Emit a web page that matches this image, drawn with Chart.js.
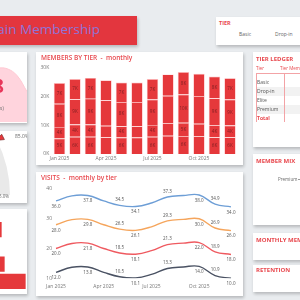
<!DOCTYPE html>
<html><head><meta charset="utf-8">
<script src="https://cdn.jsdelivr.net/npm/chart.js@4.4.0/dist/chart.umd.min.js"></script>
<style>
html,body{margin:0;padding:0;width:300px;height:300px;overflow:hidden;background:#e9ecef;font-family:"Open Sans",sans-serif;}
.panel{position:absolute;background:#fff;box-shadow:1px 2px 3px rgba(0,0,0,0.22);overflow:hidden;}
.ttl{position:absolute;left:3px;top:2px;font-size:6px;font-weight:700;color:#e8474d;white-space:nowrap;line-height:8px;}
.t{position:absolute;white-space:nowrap;}
canvas{position:absolute;}
</style></head>
<body>
<!-- banner -->
<div class="panel" style="left:-60px;top:16px;width:197px;height:29px;background:#e3363e;">
  <div class="t" style="right:37px;top:5px;font-size:13.5px;line-height:16px;color:#8f74d6;">Gym Chain Membership</div>
</div>
<!-- tier slicer -->
<div class="panel" style="left:216px;top:17px;width:90px;height:28px;">
  <div class="ttl" style="font-size:5.5px;">TIER</div>
  <div class="t" style="left:23px;top:14px;font-size:5px;color:#666;">Basic</div>
  <div class="t" style="left:59px;top:14px;font-size:5px;color:#666;">Drop-in</div>
</div>
<!-- left KPI 1 -->
<div class="panel" id="p1" style="left:-20px;top:52px;width:47px;height:71px;">
  <canvas id="area" width="60" height="62" style="left:-13px;top:8px;"></canvas>
  <div class="t" style="right:23px;top:24px;font-size:20px;line-height:20px;font-weight:700;color:#e8365a;">28</div>
  <div class="t" style="right:23px;top:52px;font-size:5.5px;color:#777;">(members)</div>
</div>
<!-- left gauge -->
<div class="panel" style="left:-20px;top:131px;width:47px;height:72px;">
  <canvas id="gauge" width="242" height="121" style="left:-212px;top:-57px;"></canvas>
  <div class="t" style="left:35px;top:2px;font-size:5px;color:#666;">85.0%</div>
  <div class="t" style="right:18px;top:62px;font-size:4.5px;color:#666;">95.0%</div>
</div>
<!-- left bars -->
<div class="panel" style="left:-20px;top:209px;width:47px;height:85px;">
  <canvas id="side" width="150" height="69" style="left:-100px;top:12px;"></canvas>
</div>
<!-- members by tier -->
<div class="panel" style="left:36px;top:52px;width:207px;height:113px;">
  <div class="ttl" style="left:5px;top:2px;font-size:6.5px;font-weight:600;">MEMBERS BY TIER&nbsp; - &nbsp;monthly</div>
  <canvas id="bars" width="207" height="103" style="left:0;top:10px;"></canvas>
</div>
<!-- visits -->
<div class="panel" style="left:36px;top:172px;width:207px;height:124px;">
  <div class="ttl" style="left:5px;top:2px;font-size:6.5px;font-weight:600;">VISITS&nbsp; - &nbsp;monthly by tier</div>
  <canvas id="visits" width="207" height="114" style="left:0;top:10px;"></canvas>
</div>
<!-- tier ledger -->
<div class="panel" style="left:253px;top:52px;width:60px;height:95px;">
  <div class="ttl" style="top:3px;">TIER LEDGER</div>
  <div class="t" style="left:3px;top:13px;font-size:4.5px;color:#e8474d;">Tier</div>
  <div class="t" style="left:27px;top:13px;font-size:4.5px;color:#e8474d;">Tier Members</div>
  <div style="position:absolute;left:3px;top:20.5px;width:60px;height:0.8px;background:#f3a3a6;"></div>
  <div style="position:absolute;left:3px;top:34.5px;width:60px;height:9px;background:#f2f2f2;"></div>
  <div style="position:absolute;left:3px;top:52.5px;width:60px;height:9px;background:#f2f2f2;"></div>
  <div style="position:absolute;left:3px;top:21px;width:0.8px;height:49px;background:#f3a3a6;"></div>
  <div style="position:absolute;left:31px;top:21px;width:0.8px;height:49px;background:#f3a3a6;"></div>
  <div id="ledger"></div>
</div>
<!-- member mix -->
<div class="panel" style="left:253px;top:154px;width:60px;height:71px;">
  <div class="ttl" style="top:3px;">MEMBER MIX</div>
  <div class="t" style="left:25px;top:22px;font-size:4.5px;color:#666;">Premium</div>
  <div style="position:absolute;left:44.5px;top:25px;width:3px;height:0.6px;background:#999;"></div>
</div>
<div class="panel" style="left:253px;top:233px;width:60px;height:27px;">
  <div class="ttl" style="top:3px;">MONTHLY MEMBERS</div>
</div>
<div class="panel" style="left:253px;top:265px;width:60px;height:27px;">
  <div class="ttl" style="top:1px;">RETENTION</div>
</div>

<script>
// ---------- data ----------
const months = ['Jan 2025','Feb 2025','Mar 2025','Apr 2025','May 2025','Jun 2025','Jul 2025','Aug 2025','Sep 2025','Oct 2025','Nov 2025','Dec 2025'];
const tiers = ['Basic','Drop-in','Elite','Premium'];
// members by tier (thousands), stack order bottom -> top
const basicK   = [5.4,6.0,6.0,5.8,5.7,5.7,6.0,6.3,6.2,6.1,5.8,5.8];
const dropinK  = [4.0,4.2,4.2,4.0,3.9,3.9,4.1,4.4,4.6,4.4,4.2,4.1];
const eliteK   = [8.0,8.8,9.0,8.8,8.4,8.4,8.8,9.5,9.8,9.6,9.3,9.0];
const premiumK = [7.2,7.0,7.2,7.0,6.8,6.8,7.1,7.4,7.8,7.7,7.6,7.4];
const barLabelIdx = [0,1,2,4,6,8,10,11];
// visits by tier
const visitsPremium = [36.0,37.7,37.8,36.0,34.5,34.1,35.3,37.3,37.8,38.0,34.9,34.0];
const visitsElite   = [28.0,29.7,29.8,28.0,26.5,26.1,27.3,29.3,29.8,30.0,26.9,26.0];
const visitsDropin  = [20.0,21.7,21.8,20.0,18.5,18.1,19.3,21.3,21.8,22.0,18.9,18.0];
const visitsBasic   = [12.0,13.7,13.8,12.0,10.5,10.1,11.3,13.3,13.8,14.0,10.9,10.0];
const lineLabelIdx = [0,2,4,5,7,9,10,11];
const lineLabelPos = ['b','b','t','b','t','b','t','b'];
// KPI sparkline
const areaValues = [85,88,86,87,86,75,49];
// gauge
const gaugeValues = [85,15];
const gaugeTarget = 85;
// side bars
const sideValues = [81.1,70,83.1,97.1];
// ledger rows
const ledgerRows = ['Basic','Drop-in','Elite','Premium','Total'];

// ---------- styles ----------
Chart.defaults.font.family = "'Open Sans', sans-serif";
Chart.defaults.animation = false;
Chart.defaults.plugins.legend.display = false;
Chart.defaults.plugins.tooltip.enabled = false;
const RED = '#e5383b';

// ledger
const led = document.getElementById('ledger');
ledgerRows.forEach((r,i)=>{
  const d = document.createElement('div');
  d.className='t';
  d.textContent = r;
  d.style.cssText = `left:4px;top:${25.5+i*9}px;font-size:5px;line-height:9px;color:${r==='Total'?'#e8474d':'#555'};font-weight:${r==='Total'?700:400};`;
  led.appendChild(d);
});

// area
new Chart(document.getElementById('area'), {
  type:'line',
  data:{labels:areaValues.map((_,i)=>i), datasets:[{data:areaValues, fill:'origin', backgroundColor:'#ffd4dd', borderColor:'#ffc9d3', borderWidth:1, pointRadius:0, tension:0.4}]},
  options:{responsive:false, layout:{padding:0}, scales:{x:{display:false}, y:{display:false, min:0, max:100}}}
});

// gauge
const gaugeMarker = {
  id:'gaugeMarker',
  afterDatasetsDraw(chart){
    const arc = chart.getDatasetMeta(0).data[0];
    const a = -Math.PI + Math.PI*gaugeTarget/100;
    const ctx = chart.ctx, R = arc.outerRadius;
    const ux = Math.cos(a), uy = Math.sin(a), px = -uy, py = ux;
    const tip = [arc.x + (R-1)*ux, arc.y + (R-1)*uy];
    const b = [arc.x + (R+7)*ux, arc.y + (R+7)*uy];
    ctx.save();
    ctx.beginPath();
    ctx.moveTo(tip[0], tip[1]);
    ctx.lineTo(b[0]+3*px, b[1]+3*py);
    ctx.lineTo(b[0]-3*px, b[1]-3*py);
    ctx.closePath();
    ctx.fillStyle = RED; ctx.fill();
    ctx.strokeStyle = '#6b1c1c'; ctx.lineWidth = 0.6; ctx.stroke();
    ctx.restore();
  }
};
new Chart(document.getElementById('gauge'), {
  type:'doughnut',
  data:{labels:['value','rest'], datasets:[{data:gaugeValues, backgroundColor:[RED,'#e9e9e9'], borderWidth:0}]},
  options:{responsive:false, rotation:-90, circumference:180, cutout:'50%', layout:{padding:0}},
  plugins:[gaugeMarker]
});

// side bars
new Chart(document.getElementById('side'), {
  type:'bar',
  data:{labels:tiers, datasets:[{data:sideValues, backgroundColor:RED, barPercentage:0.87, categoryPercentage:1}]},
  options:{responsive:false, indexAxis:'y', layout:{padding:0}, scales:{x:{display:false,min:0,max:100}, y:{display:false}}}
});

// members by tier
const barLabels = {
  id:'barLabels',
  afterDatasetsDraw(chart){
    const ctx = chart.ctx;
    ctx.save();
    ctx.font = "4.5px 'Open Sans'";
    ctx.fillStyle = '#7d1f22';
    ctx.textAlign='center'; ctx.textBaseline='middle';
    chart.data.datasets.forEach((ds,di)=>{
      const meta = chart.getDatasetMeta(di);
      barLabelIdx.forEach(i=>{
        const el = meta.data[i];
        ctx.fillText(Math.round(ds.data[i])+'K', el.x, (el.y+el.base)/2);
      });
    });
    ctx.restore();
  }
};
const barDs = (label, data) => ({label, data, backgroundColor:RED, borderColor:'rgba(255,190,192,0.95)', borderWidth:0.7, barPercentage:0.74, categoryPercentage:1});
new Chart(document.getElementById('bars'), {
  type:'bar',
  data:{labels:months, datasets:[barDs(tiers[0],basicK), barDs(tiers[1],dropinK), barDs(tiers[2],eliteK), barDs(tiers[3],premiumK)]},
  options:{responsive:false,
    layout:{padding:{left:0,right:5.25,top:5,bottom:0}},
    scales:{
      x:{stacked:true, grid:{display:false,drawTicks:false}, border:{display:false},
         ticks:{autoSkip:false, maxRotation:0, padding:2, font:{size:5}, color:'#777', callback:(v,i)=> i%3===0 ? months[i] : ''},
         afterFit(s){ s.height = 11; }},
      y:{stacked:true, min:0, max:30, grid:{display:false,drawTicks:false}, border:{display:false},
         ticks:{stepSize:10, padding:2.5, font:{size:5}, color:'#777', callback:v=> v+'K'},
         afterFit(s){ s.width = 15.75; }}
    }},
  plugins:[barLabels]
});

// visits
const lineLabels = {
  id:'lineLabels',
  afterDatasetsDraw(chart){
    const ctx = chart.ctx;
    ctx.save();
    ctx.font = "4.5px 'Open Sans'";
    ctx.fillStyle = '#555';
    ctx.textAlign='center'; ctx.textBaseline='middle';
    chart.data.datasets.forEach((ds,di)=>{
      const meta = chart.getDatasetMeta(di);
      lineLabelIdx.forEach((i,k)=>{
        const el = meta.data[i];
        const dy = lineLabelPos[k]==='t' ? -5.5 : 5.5;
        ctx.fillText(ds.data[i].toFixed(1), el.x, el.y+dy);
      });
    });
    ctx.restore();
  }
};
const lineDs = (label, data, color) => ({label, data, borderColor:color, backgroundColor:color, borderWidth:1.4, pointRadius:0, tension:0.4, fill:false});
new Chart(document.getElementById('visits'), {
  type:'line',
  data:{labels:months, datasets:[
    lineDs(tiers[3], visitsPremium, '#6d9ed6'),
    lineDs(tiers[2], visitsElite, '#f5a55c'),
    lineDs(tiers[1], visitsDropin, '#ef5a60'),
    lineDs(tiers[0], visitsBasic, '#4a5263')]},
  options:{responsive:false,
    layout:{padding:{left:0,right:12,top:6.3,bottom:0}},
    scales:{
      x:{offset:false, grid:{display:false,drawTicks:false}, border:{display:false},
         ticks:{autoSkip:false, maxRotation:0, padding:5, font:{size:5}, color:'#777', callback:(v,i)=> i%3===0 ? months[i] : ''},
         afterFit(s){ s.height = 17.7; }},
      y:{min:10, max:40, grid:{display:false,drawTicks:false}, border:{display:false},
         ticks:{stepSize:10, padding:4, font:{size:5}, color:'#777'},
         afterFit(s){ s.width = 20; }}
    }},
  plugins:[lineLabels]
});
</script>
</body></html>
